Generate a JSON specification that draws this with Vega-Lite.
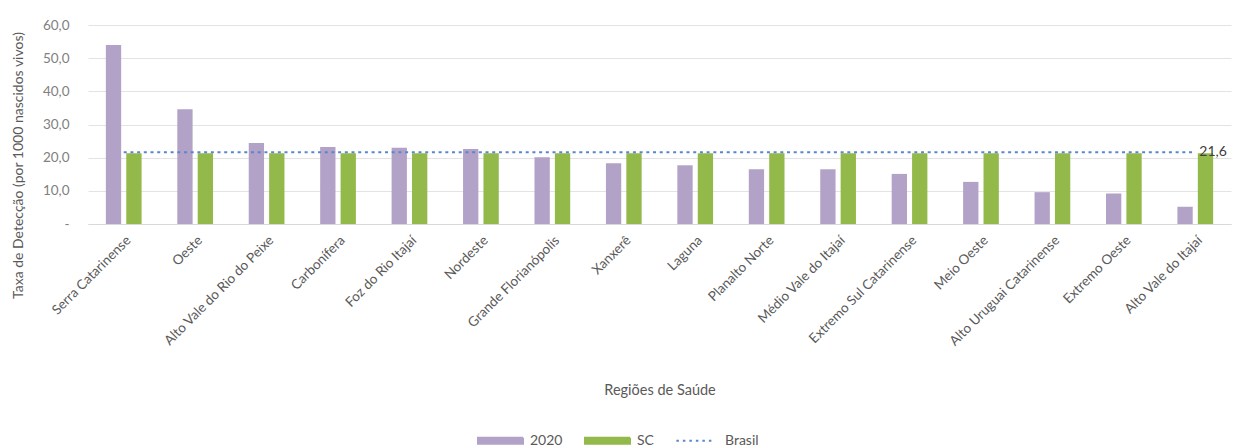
{
  "$schema": "https://vega.github.io/schema/vega-lite/v6.json",
  "width": 1143,
  "height": 199,
  "autosize": {"type": "none"},
  "padding": {"left": 88, "top": 25, "right": 11, "bottom": 224},
  "background": "white",
  "config": {
    "locale": {"number": {"decimal": ",", "thousands": ".", "grouping": [3], "currency": ["R$", ""]}},
    "font": "Lato",
    "view": {"stroke": null}
  },
  "data": {
    "values": [
      {"regiao": "Serra Catarinense", "serie": "2020", "valor": 54.0},
      {"regiao": "Oeste", "serie": "2020", "valor": 34.6},
      {"regiao": "Alto Vale do Rio do Peixe", "serie": "2020", "valor": 24.4},
      {"regiao": "Carbonífera", "serie": "2020", "valor": 23.2},
      {"regiao": "Foz do Rio Itajaí", "serie": "2020", "valor": 23.0},
      {"regiao": "Nordeste", "serie": "2020", "valor": 22.6},
      {"regiao": "Grande Florianópolis", "serie": "2020", "valor": 20.1},
      {"regiao": "Xanxerê", "serie": "2020", "valor": 18.3},
      {"regiao": "Laguna", "serie": "2020", "valor": 17.7},
      {"regiao": "Planalto Norte", "serie": "2020", "valor": 16.5},
      {"regiao": "Médio Vale do Itajaí", "serie": "2020", "valor": 16.5},
      {"regiao": "Extremo Sul Catarinense", "serie": "2020", "valor": 15.1},
      {"regiao": "Meio Oeste", "serie": "2020", "valor": 12.7},
      {"regiao": "Alto Uruguai Catarinense", "serie": "2020", "valor": 9.6},
      {"regiao": "Extremo Oeste", "serie": "2020", "valor": 9.2},
      {"regiao": "Alto Vale do Itajaí", "serie": "2020", "valor": 5.2},
      {"regiao": "Serra Catarinense", "serie": "SC", "valor": 21.3},
      {"regiao": "Oeste", "serie": "SC", "valor": 21.3},
      {"regiao": "Alto Vale do Rio do Peixe", "serie": "SC", "valor": 21.3},
      {"regiao": "Carbonífera", "serie": "SC", "valor": 21.3},
      {"regiao": "Foz do Rio Itajaí", "serie": "SC", "valor": 21.3},
      {"regiao": "Nordeste", "serie": "SC", "valor": 21.3},
      {"regiao": "Grande Florianópolis", "serie": "SC", "valor": 21.3},
      {"regiao": "Xanxerê", "serie": "SC", "valor": 21.3},
      {"regiao": "Laguna", "serie": "SC", "valor": 21.3},
      {"regiao": "Planalto Norte", "serie": "SC", "valor": 21.3},
      {"regiao": "Médio Vale do Itajaí", "serie": "SC", "valor": 21.3},
      {"regiao": "Extremo Sul Catarinense", "serie": "SC", "valor": 21.3},
      {"regiao": "Meio Oeste", "serie": "SC", "valor": 21.3},
      {"regiao": "Alto Uruguai Catarinense", "serie": "SC", "valor": 21.3},
      {"regiao": "Extremo Oeste", "serie": "SC", "valor": 21.3},
      {"regiao": "Alto Vale do Itajaí", "serie": "SC", "valor": 21.3},
      {"regiao": "Serra Catarinense", "serie": "Brasil", "valor": 21.6},
      {"regiao": "Oeste", "serie": "Brasil", "valor": 21.6},
      {"regiao": "Alto Vale do Rio do Peixe", "serie": "Brasil", "valor": 21.6},
      {"regiao": "Carbonífera", "serie": "Brasil", "valor": 21.6},
      {"regiao": "Foz do Rio Itajaí", "serie": "Brasil", "valor": 21.6},
      {"regiao": "Nordeste", "serie": "Brasil", "valor": 21.6},
      {"regiao": "Grande Florianópolis", "serie": "Brasil", "valor": 21.6},
      {"regiao": "Xanxerê", "serie": "Brasil", "valor": 21.6},
      {"regiao": "Laguna", "serie": "Brasil", "valor": 21.6},
      {"regiao": "Planalto Norte", "serie": "Brasil", "valor": 21.6},
      {"regiao": "Médio Vale do Itajaí", "serie": "Brasil", "valor": 21.6},
      {"regiao": "Extremo Sul Catarinense", "serie": "Brasil", "valor": 21.6},
      {"regiao": "Meio Oeste", "serie": "Brasil", "valor": 21.6},
      {"regiao": "Alto Uruguai Catarinense", "serie": "Brasil", "valor": 21.6},
      {"regiao": "Extremo Oeste", "serie": "Brasil", "valor": 21.6},
      {"regiao": "Alto Vale do Itajaí", "serie": "Brasil", "valor": 21.6, "rotulo": "21,6"}
    ]
  },
  "encoding": {
    "x": {
      "field": "regiao",
      "type": "nominal",
      "sort": null,
      "scale": {"paddingInner": 0.5, "paddingOuter": 0.25},
      "axis": {
        "title": "Regiões de Saúde",
        "titleFont": "Lato",
        "titleFontSize": 14.5,
        "titleFontWeight": "normal",
        "titleColor": "#595959",
        "titleBaseline": "middle",
        "titleY": 166,
        "labelAngle": -45,
        "labelFontSize": 13.5,
        "labelColor": "#595959",
        "labelPadding": 9,
        "labelOverlap": false,
        "labelLimit": 300,
        "ticks": false,
        "domainColor": "#d9d9d9",
        "grid": false
      }
    },
    "y": {
      "field": "valor",
      "type": "quantitative",
      "scale": {"domain": [0, 60], "nice": false},
      "axis": {
        "title": "Taxa de Detecção (por 1000 nascidos vivos)",
        "titleFont": "Lato",
        "titleFontSize": 14,
        "titleFontWeight": "normal",
        "titleColor": "#595959",
        "titleAngle": -90,
        "titleAlign": "center",
        "titleBaseline": "middle",
        "titleX": -70,
        "titleY": 140,
        "values": [0, 10, 20, 30, 40, 50, 60],
        "format": ".1f",
        "labelExpr": "datum.value == 0 ? '-' : datum.label",
        "labelFontSize": 13.5,
        "labelColor": "#808080",
        "labelPadding": 19,
        "ticks": false,
        "domain": false,
        "grid": true,
        "gridColor": "#e3e3e3"
      }
    }
  },
  "layer": [
    {
      "transform": [{"filter": "datum.serie != 'Brasil'"}],
      "mark": {"type": "bar"},
      "encoding": {
        "xOffset": {"field": "serie", "type": "nominal", "scale": {"paddingInner": 0.25, "paddingOuter": 0}},
        "color": {
          "field": "serie",
          "type": "nominal",
          "scale": {"domain": ["2020", "SC", "Brasil"], "range": ["#b3a2c7", "#92b94a", "#5a87cc"]},
          "legend": {
            "title": null,
            "orient": "none",
            "direction": "horizontal",
            "legendX": 389,
            "legendY": 392,
            "labelFont": "Lato",
            "labelFontSize": 14,
            "labelColor": "#595959",
            "labelOffset": 6,
            "columnPadding": 18,
            "symbolSize": 2025,
            "symbolLimit": 3,
            "encode": {
              "symbols": {
                "update": {
                  "shape": {"signal": "datum.value === 'Brasil' ? 'M-0.85,0H0.85' : 'M-1,-0.13H1V0.13H-1Z'"},
                  "fill": {"signal": "datum.value === 'Brasil' ? 'transparent' : (datum.value === 'SC' ? '#92b94a' : '#b3a2c7')"},
                  "stroke": {"signal": "datum.value === 'Brasil' ? '#5a87cc' : 'transparent'"},
                  "strokeWidth": {"value": 2},
                  "strokeDash": {"signal": "datum.value === 'Brasil' ? [2.5, 4] : [1, 0]"},
                  "opacity": {"value": 1}
                }
              }
            }
          }
        }
      }
    },
    {
      "transform": [{"filter": "datum.serie == 'Brasil'"}],
      "mark": {"type": "line", "strokeDash": [3, 3.7], "strokeWidth": 2, "strokeCap": "butt"},
      "encoding": {
        "color": {"field": "serie", "type": "nominal"}
      }
    },
    {
      "transform": [{"filter": "isValid(datum.rotulo)"}],
      "mark": {"type": "text", "align": "left", "baseline": "middle", "dx": 4, "fontSize": 14, "color": "#404040", "font": "Lato"},
      "encoding": {
        "text": {"field": "rotulo", "type": "nominal"}
      }
    }
  ]
}
